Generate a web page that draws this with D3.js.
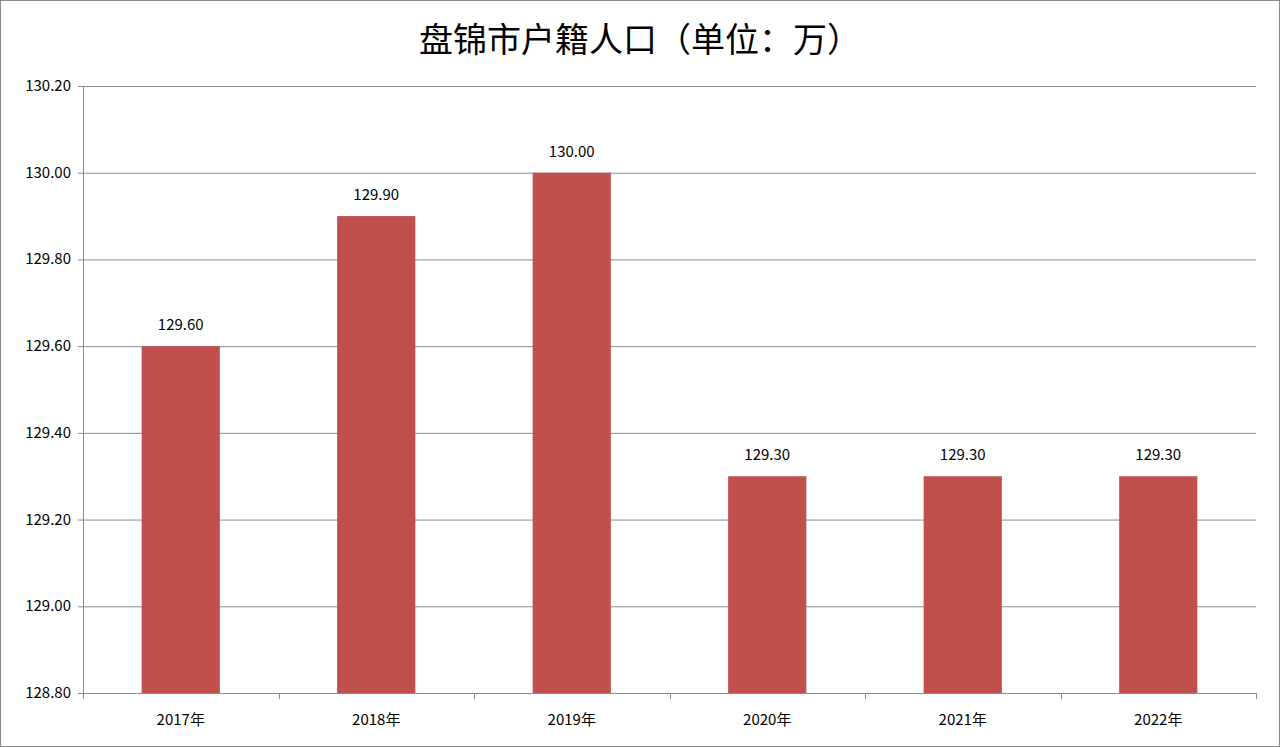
<!DOCTYPE html>
<html><head><meta charset="utf-8">
<script src="https://cdn.jsdelivr.net/npm/d3@7/dist/d3.min.js"></script>
<style>body{margin:0;background:#fff}svg{display:block}</style></head>
<body><svg id="c" width="1280" height="747"></svg>
<script>
const categories = ["2017年","2018年","2019年","2020年","2021年","2022年"];
const values = [129.60,129.90,130.00,129.30,129.30,129.30];
const yTicks = [128.80,129.00,129.20,129.40,129.60,129.80,130.00,130.20];
const title = "盘锦市户籍人口（单位：万）";

const svg = d3.select("#c");
const font = "'Noto Sans CJK SC','Noto Sans',sans-serif";
svg.append("rect").attr("x",0.5).attr("y",0.5).attr("width",1279).attr("height",746)
  .attr("fill","#fff").attr("stroke","#888");
const L=83,R=1256,T=86,B=693;
const x = d3.scaleBand().domain(categories).range([L,R]).paddingInner(0).paddingOuter(0);
const y = d3.scaleLinear().domain([128.8,130.2]).range([B,T]);

svg.append("text").attr("x",640).attr("y",52).attr("text-anchor","middle")
  .attr("font-family",font).attr("font-size",34).attr("fill","#000").text(title);

svg.append("g").selectAll("line").data(yTicks).join("line")
  .attr("x1",L-5).attr("x2",R).attr("y1",d=>y(d)+0.5).attr("y2",d=>y(d)+0.5)
  .attr("stroke","#8c8c8c");
svg.append("g").selectAll("text").data(yTicks).join("text")
  .attr("x",71).attr("y",d=>y(d)+5).attr("text-anchor","end")
  .attr("font-family",font).attr("font-size",15).attr("fill","#000").text(d=>d.toFixed(2));

const bw = x.bandwidth()*0.4;
svg.append("g").selectAll("rect").data(values).join("rect")
  .attr("x",(d,i)=>x(categories[i])+x.bandwidth()/2-bw/2).attr("width",bw)
  .attr("y",d=>y(d)).attr("height",d=>B-y(d)).attr("fill","#C0504D");
svg.append("g").selectAll("text").data(values).join("text")
  .attr("x",(d,i)=>x(categories[i])+x.bandwidth()/2).attr("y",d=>y(d)-16)
  .attr("text-anchor","middle").attr("font-family",font).attr("font-size",15).text(d=>d.toFixed(2));

svg.append("line").attr("x1",L+0.5).attr("x2",L+0.5).attr("y1",T).attr("y2",B).attr("stroke","#8c8c8c");
svg.append("line").attr("x1",L).attr("x2",R).attr("y1",B+0.5).attr("y2",B+0.5).attr("stroke","#8c8c8c");
const bounds = categories.map(c=>x(c)).concat([R]);
svg.append("g").selectAll("line").data(bounds).join("line")
  .attr("x1",d=>Math.round(d)+0.5).attr("x2",d=>Math.round(d)+0.5).attr("y1",B).attr("y2",B+6).attr("stroke","#8c8c8c");
svg.append("g").selectAll("text").data(categories).join("text")
  .attr("x",d=>x(d)+x.bandwidth()/2).attr("y",725).attr("text-anchor","middle")
  .attr("font-family",font).attr("font-size",15).text(d=>d);
</script></body></html>
